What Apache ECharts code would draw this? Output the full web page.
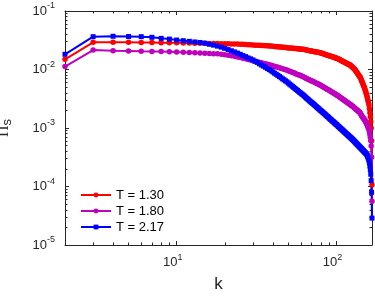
<!DOCTYPE html>
<html><head><meta charset="utf-8">
<script src="https://cdn.jsdelivr.net/npm/echarts@6/dist/echarts.min.js"></script>
<style>html,body{margin:0;padding:0;background:#fff}#c{width:375px;height:296px}</style>
</head><body><div id="c"></div><script>
const kValues = [2,3,4,5,6,7,8,9,10,
11,12,13,14,15,16,17,18,19,20,21,22,23,24,25,26,27,28,29,30,
31,32,33,34,35,36,37,38,39,40,41,42,43,44,45,46,47,48,49,50,
51,52,53,54,55,56,57,58,59,60,61,62,63,64,65,66,67,68,69,70,
71,72,73,74,75,76,77,78,79,80,81,82,83,84,85,86,87,88,89,90,
91,92,93,94,95,96,97,98,99,100,101,102,103,104,105,106,107,108,109,110,
111,112,113,114,115,116,117,118,119,120,121,122,123,124,125,126,127,128,129,130,
131,132,133,134,135,136,137,138,139,140,141,142,143,144,145,146,147,148,149,150,
151,152,153,154,155,156,157,158,159,160,161,162,163,164,165,166,167];

const piT130 = [1.49e-2,2.92e-2,2.92e-2,2.91e-2,2.90e-2,2.90e-2,2.88e-2,2.88e-2,2.86e-2,
2.84e-2,2.83e-2,2.82e-2,2.81e-2,2.80e-2,2.79e-2,2.78e-2,2.77e-2,2.76e-2,2.75e-2,
2.75e-2,2.74e-2,2.74e-2,2.72e-2,2.70e-2,2.69e-2,2.67e-2,2.65e-2,2.64e-2,2.63e-2,
2.61e-2,2.60e-2,2.59e-2,2.58e-2,2.56e-2,2.55e-2,2.54e-2,2.53e-2,2.51e-2,2.49e-2,
2.48e-2,2.46e-2,2.45e-2,2.43e-2,2.42e-2,2.40e-2,2.39e-2,2.37e-2,2.36e-2,2.34e-2,
2.33e-2,2.32e-2,2.31e-2,2.30e-2,2.29e-2,2.28e-2,2.26e-2,2.25e-2,2.24e-2,2.23e-2,
2.22e-2,2.21e-2,2.19e-2,2.17e-2,2.15e-2,2.13e-2,2.12e-2,2.10e-2,2.08e-2,2.07e-2,
2.06e-2,2.04e-2,2.02e-2,2.01e-2,2.00e-2,1.98e-2,1.97e-2,1.95e-2,1.94e-2,1.91e-2,
1.90e-2,1.87e-2,1.85e-2,1.83e-2,1.82e-2,1.79e-2,1.77e-2,1.76e-2,1.74e-2,1.72e-2,
1.70e-2,1.69e-2,1.67e-2,1.66e-2,1.64e-2,1.63e-2,1.61e-2,1.59e-2,1.58e-2,1.56e-2,
1.55e-2,1.52e-2,1.51e-2,1.49e-2,1.47e-2,1.45e-2,1.43e-2,1.41e-2,1.39e-2,1.37e-2,
1.36e-2,1.34e-2,1.32e-2,1.31e-2,1.29e-2,1.27e-2,1.26e-2,1.24e-2,1.23e-2,1.22e-2,
1.20e-2,1.19e-2,1.16e-2,1.14e-2,1.12e-2,1.09e-2,1.07e-2,1.05e-2,1.03e-2,1.01e-2,
9.79e-3,9.51e-3,9.23e-3,8.95e-3,8.69e-3,8.43e-3,8.20e-3,7.96e-3,7.74e-3,7.52e-3,
7.40e-3,7.05e-3,6.71e-3,6.38e-3,6.10e-3,5.81e-3,5.55e-3,5.28e-3,5.05e-3,4.83e-3,
4.55e-3,4.30e-3,4.05e-3,3.82e-3,3.60e-3,3.33e-3,3.09e-3,2.87e-3,2.67e-3,2.47e-3,
2.14e-3,1.82e-3,1.55e-3,1.29e-3,1.00e-3,6.03e-4,1.07e-4];

const piT180 = [1.12e-2,2.15e-2,2.09e-2,2.07e-2,2.05e-2,2.04e-2,2.03e-2,2.02e-2,1.99e-2,
1.97e-2,1.95e-2,1.93e-2,1.91e-2,1.89e-2,1.88e-2,1.86e-2,1.85e-2,1.82e-2,1.79e-2,
1.75e-2,1.71e-2,1.68e-2,1.64e-2,1.60e-2,1.56e-2,1.52e-2,1.48e-2,1.45e-2,1.41e-2,
1.38e-2,1.36e-2,1.32e-2,1.30e-2,1.27e-2,1.25e-2,1.23e-2,1.21e-2,1.18e-2,1.16e-2,
1.13e-2,1.11e-2,1.09e-2,1.07e-2,1.05e-2,1.03e-2,1.01e-2,9.93e-3,9.77e-3,9.55e-3,
9.33e-3,9.14e-3,8.95e-3,8.77e-3,8.59e-3,8.41e-3,8.24e-3,8.11e-3,7.94e-3,7.80e-3,
7.66e-3,7.52e-3,7.35e-3,7.19e-3,7.05e-3,6.89e-3,6.76e-3,6.62e-3,6.50e-3,6.38e-3,
6.27e-3,6.15e-3,6.04e-3,5.93e-3,5.82e-3,5.71e-3,5.64e-3,5.53e-3,5.43e-3,5.33e-3,
5.24e-3,5.12e-3,5.02e-3,4.93e-3,4.83e-3,4.74e-3,4.65e-3,4.57e-3,4.49e-3,4.41e-3,
4.33e-3,4.24e-3,4.18e-3,4.10e-3,4.03e-3,3.96e-3,3.89e-3,3.83e-3,3.76e-3,3.71e-3,
3.64e-3,3.57e-3,3.51e-3,3.44e-3,3.37e-3,3.31e-3,3.25e-3,3.19e-3,3.14e-3,3.08e-3,
3.03e-3,2.97e-3,2.92e-3,2.87e-3,2.82e-3,2.77e-3,2.73e-3,2.69e-3,2.64e-3,2.59e-3,
2.55e-3,2.51e-3,2.47e-3,2.44e-3,2.40e-3,2.36e-3,2.32e-3,2.29e-3,2.24e-3,2.20e-3,
2.16e-3,2.12e-3,2.08e-3,2.05e-3,2.01e-3,1.98e-3,1.94e-3,1.91e-3,1.87e-3,1.85e-3,
1.79e-3,1.73e-3,1.67e-3,1.62e-3,1.57e-3,1.52e-3,1.48e-3,1.45e-3,1.41e-3,1.38e-3,
1.34e-3,1.29e-3,1.25e-3,1.21e-3,1.17e-3,1.12e-3,1.07e-3,1.02e-3,9.77e-4,9.33e-4,
8.51e-4,7.76e-4,6.92e-4,6.03e-4,4.90e-4,3.16e-4,5.62e-5];

const piT217 = [1.82e-2,3.64e-2,3.70e-2,3.67e-2,3.64e-2,3.55e-2,3.41e-2,3.31e-2,3.19e-2,
3.11e-2,3.03e-2,2.96e-2,2.90e-2,2.82e-2,2.70e-2,2.61e-2,2.51e-2,2.41e-2,2.30e-2,
2.19e-2,2.09e-2,2.00e-2,1.91e-2,1.82e-2,1.73e-2,1.66e-2,1.58e-2,1.52e-2,1.46e-2,
1.38e-2,1.32e-2,1.25e-2,1.19e-2,1.14e-2,1.09e-2,1.04e-2,9.98e-3,9.53e-3,9.08e-3,
8.65e-3,8.28e-3,7.93e-3,7.59e-3,7.24e-3,6.93e-3,6.67e-3,6.40e-3,6.15e-3,5.87e-3,
5.61e-3,5.38e-3,5.16e-3,4.95e-3,4.75e-3,4.56e-3,4.39e-3,4.23e-3,4.06e-3,3.92e-3,
3.78e-3,3.65e-3,3.51e-3,3.37e-3,3.24e-3,3.13e-3,3.02e-3,2.91e-3,2.81e-3,2.72e-3,
2.64e-3,2.55e-3,2.47e-3,2.39e-3,2.31e-3,2.23e-3,2.17e-3,2.10e-3,2.03e-3,1.98e-3,
1.92e-3,1.86e-3,1.81e-3,1.76e-3,1.71e-3,1.66e-3,1.61e-3,1.57e-3,1.53e-3,1.48e-3,
1.44e-3,1.40e-3,1.37e-3,1.33e-3,1.29e-3,1.27e-3,1.23e-3,1.21e-3,1.17e-3,1.15e-3,
1.12e-3,1.09e-3,1.06e-3,1.04e-3,1.01e-3,9.89e-4,9.66e-4,9.44e-4,9.23e-4,9.02e-4,
8.81e-4,8.61e-4,8.41e-4,8.24e-4,8.05e-4,7.89e-4,7.71e-4,7.55e-4,7.40e-4,7.24e-4,
7.10e-4,6.95e-4,6.81e-4,6.67e-4,6.53e-4,6.41e-4,6.28e-4,6.14e-4,6.00e-4,5.87e-4,
5.74e-4,5.61e-4,5.50e-4,5.38e-4,5.26e-4,5.15e-4,5.05e-4,4.94e-4,4.84e-4,4.74e-4,
4.65e-4,4.55e-4,4.47e-4,4.38e-4,4.29e-4,4.21e-4,4.12e-4,4.05e-4,3.96e-4,3.89e-4,
3.82e-4,3.75e-4,3.67e-4,3.61e-4,3.54e-4,3.39e-4,3.24e-4,3.09e-4,2.95e-4,2.75e-4,
2.51e-4,2.24e-4,1.95e-4,1.62e-4,1.26e-4,7.94e-5,2.88e-5];

const seriesNames = ['T = 1.30', 'T = 1.80', 'T = 2.17'];
const xMajorTicks = [10, 100];
const xMinorTicks = [2,3,4,5,6,7,8,9,20,30,40,50,60,70,80,90];
const yMajorTicks = [1e-5, 1e-4, 1e-3, 1e-2, 1e-1];
const yMinorTicks = [2e-5,3e-5,4e-5,5e-5,6e-5,7e-5,8e-5,9e-5,
  2e-4,3e-4,4e-4,5e-4,6e-4,7e-4,8e-4,9e-4,
  2e-3,3e-3,4e-3,5e-3,6e-3,7e-3,8e-3,9e-3,
  2e-2,3e-2,4e-2,5e-2,6e-2,7e-2,8e-2,9e-2];
const xRange = [2, 167];
const yRange = [1e-5, 1e-1];

const FONT = 'Liberation Sans';
const AX = '#262626';
const expRich = {
  b: { fontFamily: FONT, fontSize: 13, color: AX },
  s: { fontFamily: FONT, fontSize: 9, color: AX, padding: [0, 0, 10, 0] },
  t: { fontFamily: FONT, fontSize: 9, color: AX, padding: [0, 8, 10, 0] }
};
function expLabelY(v) {
  return '{b|10}{s|' + Math.round(Math.log10(v)) + '}';
}
function expLabelX(v) {
  return '{b|10}{t|' + Math.round(Math.log10(v)) + '}';
}
function makeAxis(dim, position, ticks, tickLen, withLabels, withLine) {
  const range = dim === 'x' ? xRange : yRange;
  return {
    type: 'log', logBase: 10, position: position,
    min: range[0], max: range[1],
    splitLine: { show: false }, minorTick: { show: false },
    axisLine: { show: withLine, lineStyle: { color: AX, width: 1 } },
    axisTick: { show: true, inside: true, length: tickLen, customValues: ticks,
      lineStyle: { color: AX, width: 1 } },
    axisLabel: withLabels ? { show: true, customValues: ticks,
      formatter: dim === 'x' ? expLabelX : expLabelY,
      rich: expRich, margin: dim === 'x' ? 8 : 10 } : { show: false },
    axisPointer: { show: false }
  };
}
const xAxes = [
  makeAxis('x', 'bottom', xMajorTicks, 4, true, true),
  makeAxis('x', 'bottom', xMinorTicks, 2.5, false, false),
  makeAxis('x', 'top', xMajorTicks, 4, false, true),
  makeAxis('x', 'top', xMinorTicks, 2.5, false, false)
];
const yAxes = [
  makeAxis('y', 'left', yMajorTicks, 4, true, true),
  makeAxis('y', 'left', yMinorTicks, 2.5, false, false),
  makeAxis('y', 'right', yMajorTicks, 4, false, true),
  makeAxis('y', 'right', yMinorTicks, 2.5, false, false)
];
xAxes[0].name = 'k';
xAxes[0].nameLocation = 'middle';
xAxes[0].nameGap = 31;
xAxes[0].nameTextStyle = { fontFamily: FONT, fontSize: 17, color: AX };
yAxes[0].name = '{p|\u03A0}{s|s}';
yAxes[0].nameLocation = 'middle';
yAxes[0].nameRotate = 90;
yAxes[0].nameGap = 51;
yAxes[0].nameTextStyle = { rich: {
  p: { fontFamily: 'Liberation Serif', fontSize: 16, color: AX },
  s: { fontFamily: FONT, fontSize: 13, color: AX, padding: [7, 0, 0, 0] }
} };

const colors = ['#ff0000', '#bf00bf', '#0000ff'];
const symbols = ['circle', 'circle', 'rect'];
const values = [piT130, piT180, piT217];

const chart = echarts.init(document.getElementById('c'), null, { renderer: 'canvas' });
chart.setOption({
  animation: false,
  backgroundColor: '#ffffff',
  grid: { left: 65, right: 3, top: 11, bottom: 51, containLabel: false, outerBoundsMode: 'none' },
  xAxis: xAxes,
  yAxis: yAxes,
  legend: {
    orient: 'vertical', left: 80, top: 187, itemWidth: 30, itemHeight: 6, itemGap: 0,
    padding: 0,
    textStyle: { fontFamily: FONT, fontSize: 13, color: '#000', lineHeight: 16 },
    data: seriesNames
  },
  series: seriesNames.map((name, i) => ({
    name: name, type: 'line', xAxisIndex: 0, yAxisIndex: 0,
    data: kValues.map((k, j) => [k, values[i][j]]),
    symbol: symbols[i], symbolSize: i === 2 ? 5 : 5.5,
    showSymbol: true, clip: false,
    lineStyle: { color: colors[i], width: 2 },
    itemStyle: { color: colors[i] },
    emphasis: { disabled: true }
  }))
});
</script></body></html>
